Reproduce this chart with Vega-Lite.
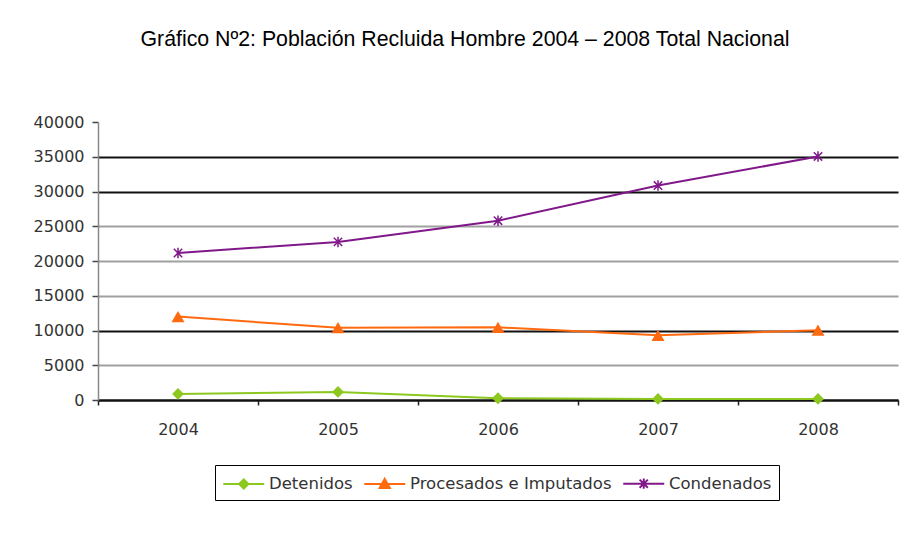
{
  "$schema": "https://vega.github.io/schema/vega-lite/v6.json",
  "width": 800,
  "height": 278,
  "autosize": "none",
  "padding": {"left": 98, "top": 122, "right": 8, "bottom": 158},
  "background": "white",
  "title": {
    "text": "Gráfico Nº2: Población Recluida Hombre 2004 – 2008 Total Nacional",
    "font": "Liberation Sans",
    "fontSize": 21.3,
    "fontWeight": "normal",
    "color": "#000000",
    "anchor": "middle",
    "frame": "group",
    "dx": -33,
    "offset": 64
  },
  "config": {
    "view": {"stroke": null},
    "axis": {"labelFont": "DejaVu Sans", "labelFontSize": 16, "labelColor": "#333333"}
  },
  "data": {
    "values": [
      {"year": "2004", "serie": "Detenidos", "value": 870},
      {"year": "2005", "serie": "Detenidos", "value": 1160},
      {"year": "2006", "serie": "Detenidos", "value": 250},
      {"year": "2007", "serie": "Detenidos", "value": 150},
      {"year": "2008", "serie": "Detenidos", "value": 150},
      {"year": "2004", "serie": "Procesados e Imputados", "value": 12000},
      {"year": "2005", "serie": "Procesados e Imputados", "value": 10400},
      {"year": "2006", "serie": "Procesados e Imputados", "value": 10450},
      {"year": "2007", "serie": "Procesados e Imputados", "value": 9300},
      {"year": "2008", "serie": "Procesados e Imputados", "value": 10050},
      {"year": "2004", "serie": "Condenados", "value": 21150},
      {"year": "2005", "serie": "Condenados", "value": 22750},
      {"year": "2006", "serie": "Condenados", "value": 25800},
      {"year": "2007", "serie": "Condenados", "value": 30850},
      {"year": "2008", "serie": "Condenados", "value": 35050}
    ]
  },
  "encoding": {
    "x": {
      "field": "year",
      "type": "ordinal",
      "scale": {"type": "band", "paddingInner": 0, "paddingOuter": 0},
      "axis": {
        "title": null,
        "labelAngle": 0,
        "labelPadding": 16,
        "tickBand": "extent",
        "tickColor": "#222222",
        "tickSize": 5,
        "tickWidth": 1.5,
        "domainColor": "#111111",
        "domainWidth": 2,
        "grid": false
      }
    },
    "y": {
      "field": "value",
      "type": "quantitative",
      "scale": {"domain": [0, 40000], "nice": false},
      "axis": {
        "title": null,
        "values": [0, 5000, 10000, 15000, 20000, 25000, 30000, 35000, 40000],
        "format": "d",
        "tickSize": 6,
        "tickWidth": 1.5,
        "tickColor": "#444444",
        "domainColor": "#888888",
        "domainWidth": 1.5,
        "labelPadding": 8,
        "grid": true,
        "gridWidth": 2,
        "gridColor": {"condition": {"test": "datum.value === 35000 || datum.value === 30000 || datum.value === 10000 || datum.value === 0", "value": "#111111"}, "value": "#a0a0a0"},
        "gridOpacity": {"condition": {"test": "datum.value === 40000", "value": 0}, "value": 1}
      }
    }
  },
  "layer": [
    {
      "mark": {"type": "line", "strokeWidth": 2},
      "encoding": {
        "color": {
          "field": "serie",
          "type": "nominal",
          "scale": {"domain": ["Detenidos", "Procesados e Imputados", "Condenados"], "range": ["#8CC81E", "#FF6A10", "#80188A"]},
          "legend": {
            "title": null,
            "orient": "none",
            "legendX": 117,
            "legendY": 343,
            "direction": "horizontal",
            "strokeColor": "#000000",
            "fillColor": "#ffffff",
            "padding": 7,
            "symbolSize": 420,
            "symbolStrokeWidth": 2,
            "labelFont": "DejaVu Sans",
            "labelFontSize": 16.5,
            "labelColor": "#333333",
            "labelLimit": 400,
            "labelOffset": 24,
            "columnPadding": 7,
            "encode": {
              "symbols": {
                "update": {
                  "shape": {"signal": "datum.value === 'Detenidos' ? 'M-1,0H3M1,-0.45L1.45,0L1,0.45L0.55,0Z' : datum.value === 'Condenados' ? 'M-1,0H3M0.6,-0.4L1.4,0.4M0.6,0.4L1.4,-0.4M1,-0.5V0.5' : 'M-1,0H3M1,-0.5L1.5,0.4L0.5,0.4Z'"},
                  "fill": {"signal": "scale('color', datum.value)"},
                  "stroke": {"signal": "scale('color', datum.value)"},
                  "strokeWidth": {"value": 2}
                }
              }
            }
          }
        }
      }
    },
    {
      "transform": [{"filter": "datum.serie === 'Detenidos'"}],
      "mark": {"type": "point", "shape": "diamond", "filled": true, "size": 140, "opacity": 1},
      "encoding": {"color": {"field": "serie", "type": "nominal", "legend": null}}
    },
    {
      "transform": [{"filter": "datum.serie === 'Procesados e Imputados'"}],
      "mark": {"type": "point", "shape": "triangle-up", "filled": true, "size": 170, "opacity": 1},
      "encoding": {"color": {"field": "serie", "type": "nominal", "legend": null}}
    },
    {
      "transform": [{"filter": "datum.serie === 'Condenados'"}],
      "mark": {"type": "point", "shape": "M-0.8,-0.8L0.8,0.8M-0.8,0.8L0.8,-0.8M0,-1V1", "filled": false, "size": 110, "strokeWidth": 1.5, "opacity": 1},
      "encoding": {"color": {"field": "serie", "type": "nominal", "legend": null}}
    }
  ]
}
